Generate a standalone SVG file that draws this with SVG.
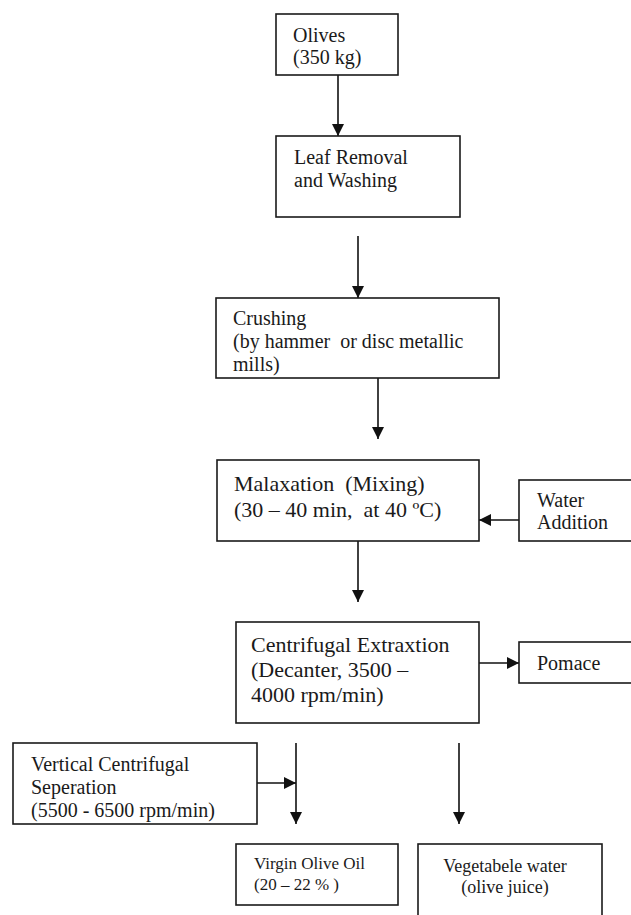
<svg xmlns="http://www.w3.org/2000/svg" width="631" height="915" viewBox="0 0 631 915">
<defs>
<marker id="ah" markerUnits="userSpaceOnUse" markerWidth="12" markerHeight="12" refX="12" refY="6" orient="auto">
<path d="M0,0 L12,6 L0,12 z" fill="#111"/>
</marker>
<style>
.box{fill:#fff;stroke:#1a1a1a;stroke-width:1.6}
.t{font-family:"Liberation Serif","Times New Roman",serif;fill:#1a1a1a;font-size:20px}
.big{font-size:22px}
.sm{font-size:17px}
.md{font-size:18px}
.c{fill:none;stroke:#111;stroke-width:1.6;marker-end:url(#ah)}
</style>
</defs>
<rect width="631" height="915" fill="#fff"/>
<g id="connectors">
<line class="c" x1="338" y1="75" x2="338" y2="136"/>
<line class="c" x1="358" y1="236" x2="358" y2="298"/>
<line class="c" x1="378" y1="378" x2="378" y2="439"/>
<line class="c" x1="519" y1="520" x2="479" y2="520"/>
<line class="c" x1="358" y1="541" x2="358" y2="602"/>
<line class="c" x1="479" y1="663" x2="519" y2="663"/>
<line class="c" x1="257" y1="783" x2="296" y2="783"/>
<line class="c" x1="296" y1="743" x2="296" y2="824"/>
<line class="c" x1="459" y1="743" x2="459" y2="824"/>
</g>
<g id="olives">
<rect class="box" x="276" y="14" width="122" height="61"/>
<text class="t" x="293" y="42">Olives</text>
<text class="t" x="293" y="64">(350 kg)</text>
</g>
<g id="leaf">
<rect class="box" x="276" y="136" width="184" height="81"/>
<text class="t" x="294" y="164">Leaf Removal</text>
<text class="t" x="294" y="187">and Washing</text>
</g>
<g id="crushing">
<rect class="box" x="216" y="298" width="283" height="80"/>
<text class="t" x="233" y="325">Crushing</text>
<text class="t" x="233" y="348" xml:space="preserve">(by hammer  or disc metallic</text>
<text class="t" x="233" y="371">mills)</text>
</g>
<g id="malaxation">
<rect class="box" x="217" y="460" width="262" height="81"/>
<text class="t big" x="234" y="491" xml:space="preserve">Malaxation  (Mixing)</text>
<text class="t big" x="234" y="517" xml:space="preserve">(30 – 40 min,  at 40 ºC)</text>
</g>
<g id="water">
<rect class="box" x="519" y="480" width="130" height="61"/>
<text class="t" x="537" y="507">Water</text>
<text class="t" x="537" y="529">Addition</text>
</g>
<g id="centrifugal">
<rect class="box" x="236" y="622" width="243" height="101"/>
<text class="t big" x="251" y="652">Centrifugal Extraxtion</text>
<text class="t big" x="251" y="677">(Decanter, 3500 –</text>
<text class="t big" x="251" y="702">4000 rpm/min)</text>
</g>
<g id="pomace">
<rect class="box" x="519" y="642" width="130" height="41"/>
<text class="t" x="537" y="670">Pomace</text>
</g>
<g id="vertical">
<rect class="box" x="13" y="743" width="244" height="81"/>
<text class="t" x="31" y="771">Vertical Centrifugal</text>
<text class="t" x="31" y="794">Seperation</text>
<text class="t" x="31" y="817">(5500 - 6500 rpm/min)</text>
</g>
<g id="virgin">
<rect class="box" x="236" y="844" width="162" height="61"/>
<text class="t sm" x="254" y="869">Virgin Olive Oil</text>
<text class="t sm" x="254" y="890">(20 – 22 % )</text>
</g>
<g id="vegetable">
<rect class="box" x="418" y="844" width="184" height="90"/>
<text class="t md" x="505" y="872" text-anchor="middle">Vegetabele water</text>
<text class="t md" x="505" y="893" text-anchor="middle">(olive juice)</text>
</g>
</svg>
